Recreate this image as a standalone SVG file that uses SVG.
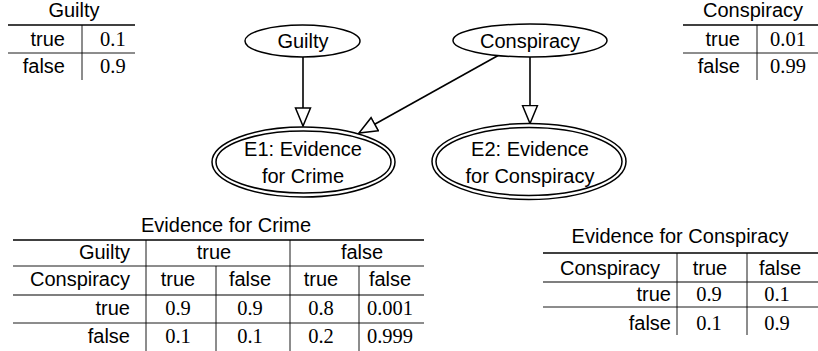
<svg xmlns="http://www.w3.org/2000/svg" width="818" height="351" viewBox="0 0 818 351">
<style>
text{font-family:"Liberation Sans",Arial,sans-serif;font-size:20px;fill:#000}
.n{font-family:"Liberation Serif","Times New Roman",serif;font-size:20.5px}
.m{text-anchor:middle}
.e{text-anchor:end}
.r1{stroke:#000;stroke-width:1.6}
.r2{stroke:#000;stroke-width:1.1}
.r3{stroke:#000;stroke-width:0.9}
.v{stroke:#000;stroke-width:0.9}
.node{fill:#fff;stroke:#000;stroke-width:1.5}
.edge{stroke:#000;stroke-width:1.6;fill:none;marker-end:url(#tri)}
</style>
<defs>
<marker id="tri" markerWidth="22" markerHeight="20" refX="19" refY="8.5" orient="auto" markerUnits="userSpaceOnUse">
<path d="M1,1 L19,8.5 L1,16 Z" fill="#fff" stroke="#000" stroke-width="1.5"/>
</marker>
</defs>
<rect width="818" height="351" fill="#fff"/>

<g id="connectors">
<line class="edge" x1="303" y1="57" x2="303" y2="126"/>
<line class="edge" x1="530" y1="57" x2="530" y2="123.5"/>
<line class="edge" x1="499" y1="55" x2="359" y2="133"/>
</g>

<g id="node-guilty">
<ellipse class="node" cx="302.5" cy="41" rx="57.5" ry="16"/>
<text class="m" x="303" y="47.5">Guilty</text>
</g>
<g id="node-conspiracy">
<ellipse class="node" cx="530" cy="40.5" rx="77" ry="16.5"/>
<text class="m" x="530" y="47.5">Conspiracy</text>
</g>
<g id="node-e1">
<ellipse class="node" cx="303.5" cy="162" rx="91.5" ry="35"/>
<ellipse class="node" cx="303.5" cy="162" rx="87.5" ry="31"/>
<text class="m" x="303" y="156">E1: Evidence</text>
<text class="m" x="303" y="183">for Crime</text>
</g>
<g id="node-e2">
<ellipse class="node" cx="529" cy="161.5" rx="97" ry="38"/>
<ellipse class="node" cx="529" cy="161.5" rx="93" ry="34"/>
<text class="m" x="530" y="156">E2: Evidence</text>
<text class="m" x="530" y="183">for Conspiracy</text>
</g>

<g id="table-guilty">
<text class="m" x="74" y="17">Guilty</text>
<line class="r1" x1="8" y1="25" x2="135" y2="25"/>
<line class="r3" x1="8" y1="53" x2="135" y2="53"/>
<line class="v" x1="82" y1="25" x2="82" y2="80"/>
<text class="e" x="65" y="46">true</text>
<text class="n" x="100" y="46">0.1</text>
<text class="e" x="65" y="73">false</text>
<text class="n" x="100" y="73">0.9</text>
</g>

<g id="table-conspiracy">
<text class="m" x="753" y="17">Conspiracy</text>
<line class="r1" x1="683" y1="25" x2="818" y2="25"/>
<line class="r3" x1="683" y1="53" x2="818" y2="53"/>
<line class="v" x1="757" y1="25" x2="757" y2="80"/>
<text class="e" x="740" y="46">true</text>
<text class="n" x="770" y="46">0.01</text>
<text class="e" x="740" y="73">false</text>
<text class="n" x="770" y="73">0.99</text>
</g>

<g id="table-crime">
<text class="m" x="226" y="232">Evidence for Crime</text>
<line class="r1" x1="13" y1="240" x2="424" y2="240"/>
<line class="r3" x1="13" y1="266" x2="424" y2="266"/>
<line class="r2" x1="13" y1="295" x2="424" y2="295"/>
<line class="r3" x1="13" y1="323" x2="424" y2="323"/>
<line class="v" x1="146" y1="240" x2="146" y2="351"/>
<line class="v" x1="290" y1="240" x2="290" y2="351"/>
<line class="v" x1="216" y1="266" x2="216" y2="351"/>
<line class="v" x1="359" y1="266" x2="359" y2="351"/>
<text class="e" x="130" y="259">Guilty</text>
<text class="m" x="214" y="259">true</text>
<text class="m" x="362" y="259">false</text>
<text class="e" x="130" y="286">Conspiracy</text>
<text class="m" x="178" y="286">true</text>
<text class="m" x="250" y="286">false</text>
<text class="m" x="321" y="286">true</text>
<text class="m" x="390" y="286">false</text>
<text class="e" x="130" y="315">true</text>
<text class="n m" x="178" y="315">0.9</text>
<text class="n m" x="250" y="315">0.9</text>
<text class="n m" x="321" y="315">0.8</text>
<text class="n m" x="390" y="315">0.001</text>
<text class="e" x="130" y="343">false</text>
<text class="n m" x="178" y="343">0.1</text>
<text class="n m" x="250" y="343">0.1</text>
<text class="n m" x="321" y="343">0.2</text>
<text class="n m" x="390" y="343">0.999</text>
</g>

<g id="table-evidence-conspiracy">
<text class="m" x="680" y="243">Evidence for Conspiracy</text>
<line class="r1" x1="543" y1="253" x2="818" y2="253"/>
<line class="r2" x1="543" y1="282" x2="818" y2="282"/>
<line class="r3" x1="543" y1="307" x2="818" y2="307"/>
<line class="v" x1="677" y1="253" x2="677" y2="335"/>
<line class="v" x1="747" y1="253" x2="747" y2="335"/>
<text class="m" x="610" y="275">Conspiracy</text>
<text class="m" x="710" y="275">true</text>
<text class="m" x="780" y="275">false</text>
<text class="e" x="671" y="301">true</text>
<text class="n m" x="709" y="301">0.9</text>
<text class="n m" x="777" y="301">0.1</text>
<text class="e" x="671" y="330">false</text>
<text class="n m" x="709" y="330">0.1</text>
<text class="n m" x="777" y="330">0.9</text>
</g>
</svg>
